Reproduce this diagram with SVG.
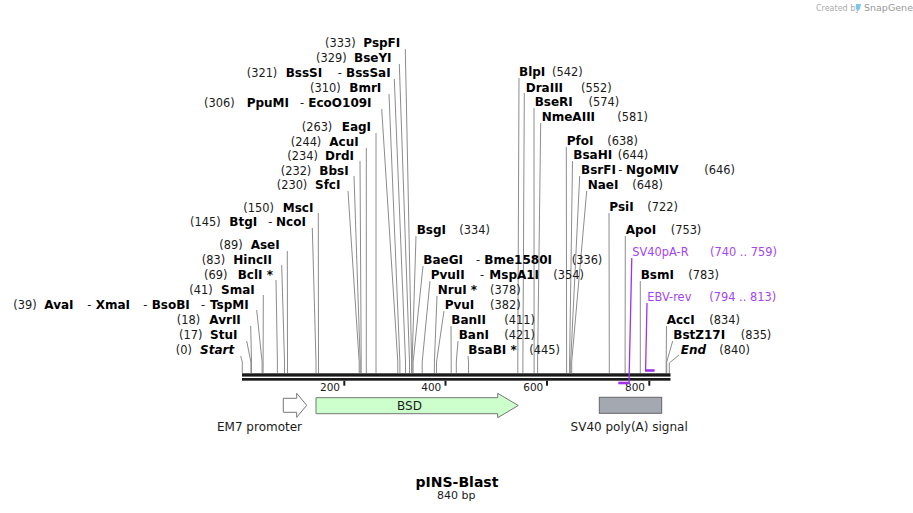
<svg xmlns="http://www.w3.org/2000/svg" width="913" height="513" viewBox="0 0 913 513">
<style>
text{font-family:"DejaVu Sans",Verdana,sans-serif}
.n{font-size:11.4px;fill:#1a1a1a}
.b{font-size:12px;font-weight:bold;fill:#000}
.bi{font-size:12px;font-weight:bold;font-style:italic;fill:#000}
.p{font-size:11.4px;fill:#a445f2}
.t{font-size:10.5px;fill:#1a1a1a}
.f{font-size:12px;fill:#1a1a1a}
.cut{fill:none;stroke:#8c8c8c;stroke-width:1}
.pr{fill:none;stroke:#a030ec;stroke-width:1.3}
.prb{fill:none;stroke:#a030ec;stroke-width:2.6}
</style>
<rect width="913" height="513" fill="#fff"/>

<g id="watermark">
<text x="816" y="11" style="font-size:8px;fill:#aaa">Created by</text>
<path d="M856 4 h5 l-1 5 l-3 2 l-1 -3 z" fill="#7cc8ec"/>
<text x="864" y="11" style="font-size:9.5px;fill:#999">SnapGene</text>
</g>

<g id="connectors">
<polyline class="cut" points="405.3,49 411.6,362 411.6,373"/>
<polyline class="cut" points="399.3,64 409.5,362 409.5,373"/>
<polyline class="cut" points="394.3,79 405.5,362 405.5,373"/>
<polyline class="cut" points="389,94 399.9,362 399.9,373"/>
<polyline class="cut" points="381.7,109 397.8,362 397.8,373"/>
<polyline class="cut" points="376,133 376,362 376,373"/>
<polyline class="cut" points="366.3,148 366.3,362 366.3,373"/>
<polyline class="cut" points="360,161 361.2,362 361.2,373"/>
<polyline class="cut" points="354,176 360.2,362 360.2,373"/>
<polyline class="cut" points="348,191 359.2,362 359.2,373"/>
<polyline class="cut" points="318.3,213 318.5,362 318.5,373"/>
<polyline class="cut" points="312.3,228 316,362 316,373"/>
<polyline class="cut" points="287.3,251 287.5,362 287.5,373"/>
<polyline class="cut" points="281.7,265 284.5,362 284.5,373"/>
<polyline class="cut" points="276,280 277.4,362 277.4,373"/>
<polyline class="cut" points="263.3,295 263.1,362 263.1,373"/>
<polyline class="cut" points="256.7,310 262.1,362 262.1,373"/>
<polyline class="cut" points="250.7,326 251.5,362 251.5,373"/>
<polyline class="cut" points="246.7,341 250.9,362 250.9,373"/>
<polyline class="cut" points="240.7,356 242.3,362 242.3,373"/>

<polyline class="cut" points="519,78 517.8,362 517.8,373"/>
<polyline class="cut" points="524.3,93 522.9,362 522.9,373"/>
<polyline class="cut" points="534,108 534.1,362 534.1,373"/>
<polyline class="cut" points="540.7,123 537.6,362 537.6,373"/>
<polyline class="cut" points="566.3,147 566.6,362 566.6,373"/>
<polyline class="cut" points="572.5,161 569.6,362 569.6,373"/>
<polyline class="cut" points="579.7,176 570.7,362 570.7,373"/>
<polyline class="cut" points="586.7,191 571.7,362 571.7,373"/>
<polyline class="cut" points="609,213 609.3,362 609.3,373"/>
<polyline class="cut" points="625.3,236 625.1,362 625.1,373"/>
<polyline class="cut" points="640.3,281 640.3,362 640.3,373"/>
<polyline class="cut" points="666.5,326 666.2,362 666.2,373"/>
<polyline class="cut" points="672.7,341 666.7,362 666.7,373"/>
<polyline class="cut" points="679,355 669.3,363 669.3,373"/>
<polyline class="cut" points="416,236 412.1,362 412.1,373"/>
<polyline class="cut" points="423,266 413.1,362 413.1,373"/>
<polyline class="cut" points="430,281 422.2,362 422.2,373"/>
<polyline class="cut" points="437,296 434.4,362 434.4,373"/>
<polyline class="cut" points="444,311 436.5,362 436.5,373"/>
<polyline class="cut" points="451,326 451.2,362 451.2,373"/>
<polyline class="cut" points="458,341 456.3,362 456.3,373"/>
<polyline class="cut" points="468,356 468.5,362 468.5,373"/>
</g>

<g id="backbone">
<rect x="242" y="373.3" width="428.5" height="3.3" fill="#1a1a1a"/>
<rect x="242" y="378" width="428.5" height="2.7" fill="#1a1a1a"/>
<rect x="343.3" y="380.7" width="2" height="5" fill="#1a1a1a"/>
<rect x="444.5" y="380.7" width="2" height="5" fill="#1a1a1a"/>
<rect x="546" y="380.7" width="2" height="5" fill="#1a1a1a"/>
<rect x="648.3" y="380.7" width="2" height="5" fill="#1a1a1a"/>
<text class="t" x="340" y="391" text-anchor="end">200</text>
<text class="t" x="441.3" y="391" text-anchor="end">400</text>
<text class="t" x="543.3" y="391" text-anchor="end">600</text>
<text class="t" x="645" y="391" text-anchor="end">800</text>
</g>

<g id="primer-SV40pA-R">
<polyline class="pr" points="631.8,258 629,383"/>
<polyline class="prb" points="618.3,383 629.6,383"/>
<text class="p" x="632.3" y="256">SV40pA-R<tspan x="710">(740 .. 759)</tspan></text>
</g>
<g id="primer-EBV-rev">
<polyline class="pr" points="647,303 645.6,370.5"/>
<polyline class="prb" points="645,370.5 654.6,370.5"/>
<text class="p" x="647.3" y="301">EBV-rev<tspan x="709.3">(794 .. 813)</tspan></text>
</g>

<g id="enzymes-left">
<text y="47"><tspan class="n" x="325">(333)</tspan><tspan class="b" x="363.3">PspFI</tspan></text>
<text y="62"><tspan class="n" x="316">(329)</tspan><tspan class="b" x="354">BseYI</tspan></text>
<text y="77"><tspan class="n" x="246.7">(321)</tspan><tspan class="b" x="285.7">BssSI</tspan><tspan class="n" x="337.7">-</tspan><tspan class="b" x="346">BssSaI</tspan></text>
<text y="92"><tspan class="n" x="310">(310)</tspan><tspan class="b" x="349.3">BmrI</tspan></text>
<text y="107"><tspan class="n" x="204">(306)</tspan><tspan class="b" x="246.7">PpuMI</tspan><tspan class="n" x="300">-</tspan><tspan class="b" x="308.3">EcoO109I</tspan></text>
<text y="131"><tspan class="n" x="301.7">(263)</tspan><tspan class="b" x="341.7">EagI</tspan></text>
<text y="145.5"><tspan class="n" x="290.7">(244)</tspan><tspan class="b" x="329.3">AcuI</tspan></text>
<text y="159.5"><tspan class="n" x="287.3">(234)</tspan><tspan class="b" x="325">DrdI</tspan></text>
<text y="174.5"><tspan class="n" x="280.7">(232)</tspan><tspan class="b" x="319.3">BbsI</tspan></text>
<text y="189.3"><tspan class="n" x="276.7">(230)</tspan><tspan class="b" x="315">SfcI</tspan></text>
<text y="211.7"><tspan class="n" x="243.3">(150)</tspan><tspan class="b" x="282.7">MscI</tspan></text>
<text y="226"><tspan class="n" x="190">(145)</tspan><tspan class="b" x="229.3">BtgI</tspan><tspan class="n" x="268.3">-</tspan><tspan class="b" x="276">NcoI</tspan></text>
<text y="249"><tspan class="n" x="219.3">(89)</tspan><tspan class="b" x="250.7">AseI</tspan></text>
<text y="263.7"><tspan class="n" x="201.7">(83)</tspan><tspan class="b" x="233.3">HincII</tspan></text>
<text y="278.7"><tspan class="n" x="204">(69)</tspan><tspan class="b" x="237.7">BclI *</tspan></text>
<text y="293.7"><tspan class="n" x="189.3">(41)</tspan><tspan class="b" x="221">SmaI</tspan></text>
<text y="308.7"><tspan class="n" x="13.3">(39)</tspan><tspan class="b" x="44.3">AvaI</tspan><tspan class="n" x="87.3">-</tspan><tspan class="b" x="95.7">XmaI</tspan><tspan class="n" x="143.3">-</tspan><tspan class="b" x="151.7">BsoBI</tspan><tspan class="n" x="201">-</tspan><tspan class="b" x="210">TspMI</tspan></text>
<text y="324"><tspan class="n" x="176.7">(18)</tspan><tspan class="b" x="209.3">AvrII</tspan></text>
<text y="339"><tspan class="n" x="179">(17)</tspan><tspan class="b" x="210">StuI</tspan></text>
<text y="354"><tspan class="n" x="175.7">(0)</tspan><tspan class="bi" x="200">Start</tspan></text>
</g>

<g id="enzymes-right">
<text y="76"><tspan class="b" x="519">BlpI</tspan><tspan class="n" x="552">(542)</tspan></text>
<text y="91.5"><tspan class="b" x="525.7">DraIII</tspan><tspan class="n" x="581">(552)</tspan></text>
<text y="106"><tspan class="b" x="534.7">BseRI</tspan><tspan class="n" x="588.5">(574)</tspan></text>
<text y="121"><tspan class="b" x="541.7">NmeAIII</tspan><tspan class="n" x="617.3">(581)</tspan></text>
<text y="145"><tspan class="b" x="566.7">PfoI</tspan><tspan class="n" x="607.3">(638)</tspan></text>
<text y="159.4"><tspan class="b" x="573.3">BsaHI</tspan><tspan class="n" x="617.7">(644)</tspan></text>
<text y="174"><tspan class="b" x="581">BsrFI</tspan><tspan class="n" x="618.3">-</tspan><tspan class="b" x="626">NgoMIV</tspan><tspan class="n" x="704.3">(646)</tspan></text>
<text y="189.3"><tspan class="b" x="587.7">NaeI</tspan><tspan class="n" x="632.3">(648)</tspan></text>
<text y="211"><tspan class="b" x="609.3">PsiI</tspan><tspan class="n" x="647.3">(722)</tspan></text>
<text y="234.3"><tspan class="b" x="625.7">ApoI</tspan><tspan class="n" x="670.7">(753)</tspan></text>
<text y="279.3"><tspan class="b" x="640.7">BsmI</tspan><tspan class="n" x="688.3">(783)</tspan></text>
<text y="324"><tspan class="b" x="666.7">AccI</tspan><tspan class="n" x="709.3">(834)</tspan></text>
<text y="339.3"><tspan class="b" x="673.3">BstZ17I</tspan><tspan class="n" x="740.7">(835)</tspan></text>
<text y="354.3"><tspan class="bi" x="680.7">End</tspan><tspan class="n" x="719.3">(840)</tspan></text>
</g>

<g id="enzymes-middle">
<text y="234.3"><tspan class="b" x="416.7">BsgI</tspan><tspan class="n" x="459.3">(334)</tspan></text>
<text y="264.3"><tspan class="b" x="423.3">BaeGI</tspan><tspan class="n" x="476">-</tspan><tspan class="b" x="484.3">Bme1580I</tspan><tspan class="n" x="571.7">(336)</tspan></text>
<text y="279.3"><tspan class="b" x="430.7">PvuII</tspan><tspan class="n" x="480">-</tspan><tspan class="b" x="489.3">MspA1I</tspan><tspan class="n" x="553.3">(354)</tspan></text>
<text y="294.3"><tspan class="b" x="437.7">NruI *</tspan><tspan class="n" x="490">(378)</tspan></text>
<text y="309.3"><tspan class="b" x="444.7">PvuI</tspan><tspan class="n" x="490">(382)</tspan></text>
<text y="324.3"><tspan class="b" x="451.3">BanII</tspan><tspan class="n" x="504.3">(411)</tspan></text>
<text y="339.3"><tspan class="b" x="458.7">BanI</tspan><tspan class="n" x="504.3">(421)</tspan></text>
<text y="354.3"><tspan class="b" x="468.3">BsaBI *</tspan><tspan class="n" x="529.3">(445)</tspan></text>
</g>

<g id="feature-EM7">
<path d="M283.3,398.3 H296.7 V393.3 L306.7,405.3 L296.7,417.3 V412.3 H283.3 Z" fill="#fff" stroke="#777" stroke-width="1"/>
<text class="f" x="259.5" y="431" text-anchor="middle">EM7 promoter</text>
</g>
<g id="feature-BSD">
<path d="M316,397.7 H497.7 V393.3 L518.3,405.5 L497.7,417.7 V413.7 H316 Z" fill="#ccffcc" stroke="#777" stroke-width="1"/>
<text class="f" x="409.5" y="409.5" text-anchor="middle">BSD</text>
</g>
<g id="feature-SV40">
<rect x="599.3" y="397.3" width="62.4" height="16" fill="#a4a8b0" stroke="#666" stroke-width="1"/>
<text class="f" x="629.2" y="431" text-anchor="middle">SV40 poly(A) signal</text>
</g>

<g id="title">
<text x="457" y="487" text-anchor="middle" style="font-size:14px;font-weight:bold;fill:#000">pINS-Blast</text>
<text x="456.3" y="498.5" text-anchor="middle" style="font-size:11px;fill:#1a1a1a">840 bp</text>
</g>
</svg>
